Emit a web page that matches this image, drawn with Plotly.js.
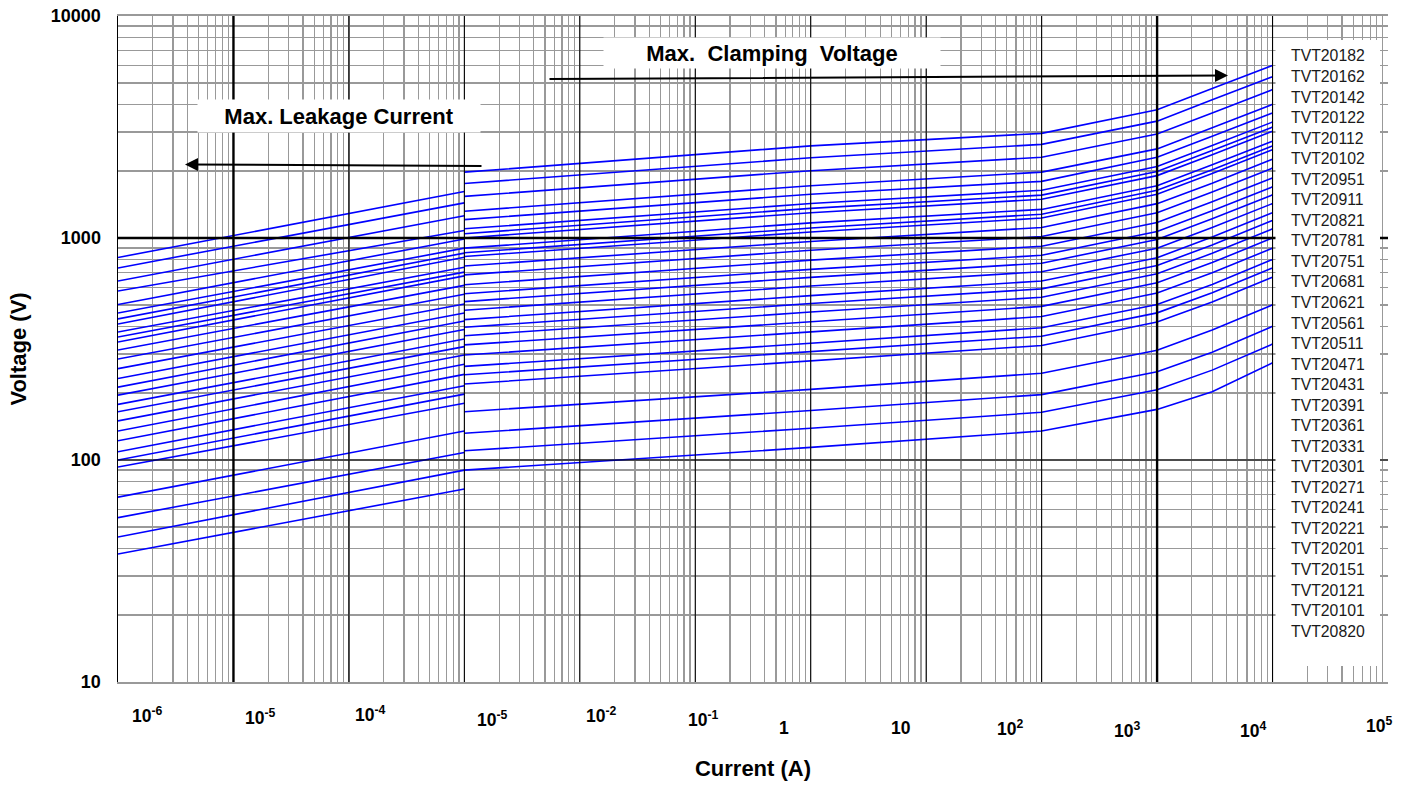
<!DOCTYPE html>
<html><head><meta charset="utf-8">
<script src="https://cdn.plot.ly/plotly-3.0.1.min.js"></script>
<style>html,body{margin:0;padding:0;background:#fff;} #chart{width:1407px;height:785px;}</style>
</head><body><div id="chart"></div>
<script>
// ---------------- data ----------------
const seriesNames = ['TVT20182','TVT20162','TVT20142','TVT20122','TVT20112','TVT20102','TVT20951','TVT20911','TVT20821','TVT20781','TVT20751','TVT20681','TVT20621','TVT20561','TVT20511','TVT20471','TVT20431','TVT20391','TVT20361','TVT20331','TVT20301','TVT20271','TVT20241','TVT20221','TVT20201','TVT20151','TVT20121','TVT20101','TVT20820'];

// currents (A) at which the curves were read
const leakCurrents  = [1e-6, 1e-3];
const clampCurrents = [1e-3, 1, 100, 1000, 3000, 1e4];

// Max. leakage current curves (V)
const leakAt1uA = [817,733,640,577,502,459,432,410,377,358,340,313,285,258,233,213,196,178,165,150,135,122,109,100,93,68,55,45,37.7];
const leakAt1mA = [1620,1440,1260,1080,990,900,855,819,738,702,675,612,558,504,459,423,387,351,324,297,270,243,216,198,180,135,108,90,74];

// Max. clamping voltage curves (V)
const clampAt1mA  = [1980,1760,1540,1320,1210,1100,1045,1000,900,858,825,748,682,616,561,517,473,429,396,363,330,297,264,242,220,165,132,110,90];
const clampAt1A   = [2600,2300,2010,1720,1575,1430,1360,1300,1170,1110,1065,965,880,795,722,665,608,550,507,464,420,378,335,307,279,208,167,139,114];
const clampAt100A = [2960,2640,2310,1980,1800,1640,1560,1495,1345,1280,1230,1115,1015,918,836,770,705,640,590,541,492,443,394,361,328,246,197,164,135];
const clampAt1kA  = [3780,3360,2940,2520,2310,2100,1995,1910,1720,1640,1575,1428,1300,1175,1070,985,900,815,752,690,628,565,502,460,418,312,250,207,169];
const clampAt3kA  = [4720,4190,3660,3140,2870,2610,2480,2370,2135,2030,1950,1765,1610,1455,1325,1220,1115,1010,930,853,775,697,618,567,515,385,306,254,203];
const clampAt10kA = [5990,5330,4660,4000,3660,3330,3160,3030,2730,2600,2500,2265,2065,1865,1700,1565,1430,1300,1200,1100,1000,900,800,733,666,500,400,333,274];

// axis labels (as printed on the original)
const xTickDecades = [-6,-5,-4,-3,-2,-1,0,1,2,3,4,5];
const xTickLabels  = ['10<sup>-6</sup>','10<sup>-5</sup>','10<sup>-4</sup>','10<sup>-5</sup>','10<sup>-2</sup>','10<sup>-1</sup>','1','10','10<sup>2</sup>','10<sup>3</sup>','10<sup>4</sup>','10<sup>5</sup>'];
const yTickValues  = [10,100,1000,10000];
const yTickLabels  = ['10','100','1000','10000'];

// ---------------- layout helpers ----------------
const FONT = 'Liberation Sans, Arial, sans-serif';
const PL = 118, PR = 1388, PT = 16, PB = 682;
const X_RANGE = [-6, 5], Y_RANGE = [1, 4];
const px2paperX = px => (px - PL) / (PR - PL);
const px2paperY = py => (PB - py) / (PB - PT);
const logToPaperX = e => (e - X_RANGE[0]) / (X_RANGE[1] - X_RANGE[0]);
const logToPaperY = e => (e - Y_RANGE[0]) / (Y_RANGE[1] - Y_RANGE[0]);

// label placement (offset in decades from the decade line, baseline in px)
const xLabelShift    = [0.256,0.238,0.183,0.244,0.188,0.072,-0.231,-0.222,-0.271,-0.26,-0.171,-0.082];
const xLabelBaseline = [723,725,722,727,723,727,735,735,736,738,738,733];

// ---------------- traces ----------------
const traces = seriesNames.map((name, i) => ({
  type: 'scatter', mode: 'lines', name: name,
  x: leakCurrents.concat([null], clampCurrents),
  y: [leakAt1uA[i], leakAt1mA[i], null, clampAt1mA[i], clampAt1A[i], clampAt100A[i], clampAt1kA[i], clampAt3kA[i], clampAt10kA[i]],
  line: {color: '#0000ff', width: 1.6},
  connectgaps: false, showlegend: false, hoverinfo: 'skip'
}));

// grid positions
const xMajor = [], xMinor = [];
for (let k = -6; k <= 4; k++) {
  xMajor.push(Math.pow(10, k));
  for (let m = 2; m <= 9; m++) xMinor.push(m * Math.pow(10, k));
}
xMajor.push(1e5);
const yMinor = [];
for (let k = 1; k <= 3; k++) for (let m = 2; m <= 9; m++) yMinor.push(m * Math.pow(10, k));

// shapes: black decade lines + white legend panel
const shapes = [];
for (let k = -5; k <= 4; k++) {
  const thick = (k === -5 || k === 3);
  const xp = logToPaperX(k);
  shapes.push({type:'line', xref:'paper', yref:'paper', x0: xp, x1: xp, y0:0, y1:1,
               line:{color:'#000', width: thick ? 2.4 : 1.1}, layer:'above'});
}
[[2, 1.1], [3, 2.4]].forEach(([e, w]) => {
  const yp = logToPaperY(e);
  shapes.push({type:'line', xref:'paper', yref:'paper', x0:0, x1:1, y0:yp, y1:yp, line:{color:'#000', width:w}, layer:'above'});
});
shapes.push({type:'rect', xref:'paper', yref:'paper', x0: px2paperX(1275.5), x1: px2paperX(1380), y0: px2paperY(666), y1: px2paperY(40),
             fillcolor:'#fff', line:{width:0}, layer:'above'});

// annotations
const annotations = [];
xTickDecades.forEach((d, i) => {
  annotations.push({xref:'x', yref:'paper', x: d + xLabelShift[i], y: px2paperY(xLabelBaseline[i] + 5),
    xanchor:'center', yanchor:'bottom', showarrow:false, text:'<b>' + xTickLabels[i] + '</b>',
    font:{family:FONT, size:17.5, color:'#000'}});
});
seriesNames.forEach((n, i) => {
  annotations.push({xref:'paper', yref:'paper', x: px2paperX(1289), y: px2paperY(56 + i * 20.54),
    xanchor:'left', yanchor:'middle', showarrow:false, text:n, font:{family:FONT, size:15.8, color:'#1a1a1a'}});
});
annotations.push({xref:'paper', yref:'paper', x: px2paperX(772), y: px2paperY(53), xanchor:'center', yanchor:'middle',
  showarrow:false, text:'<b>Max.&nbsp; Clamping&nbsp; Voltage</b>', font:{family:FONT, size:22, color:'#000'},
  bgcolor:'#fff', width:336, height:30, borderpad:0});
annotations.push({xref:'paper', yref:'paper', x: px2paperX(339), y: px2paperY(115.5), xanchor:'center', yanchor:'middle',
  showarrow:false, text:'<b>Max. Leakage Current</b>', font:{family:FONT, size:22, color:'#000'},
  bgcolor:'#fff', width:282, height:32, borderpad:0});
annotations.push({xref:'paper', yref:'paper', x: px2paperX(1228), y: px2paperY(75.5), ax:-680, ay:3.5,
  text:'', showarrow:true, arrowhead:2, arrowsize:1.3, arrowwidth:2, arrowcolor:'#000'});
annotations.push({xref:'paper', yref:'paper', x: px2paperX(185), y: px2paperY(164.5), ax:298, ay:1.5,
  text:'', showarrow:true, arrowhead:2, arrowsize:1.3, arrowwidth:2, arrowcolor:'#000'});

const layout = {
  width:1407, height:785,
  margin:{l:PL, r:1407-PR, t:PT, b:785-PB, pad:0},
  paper_bgcolor:'#fff', plot_bgcolor:'#fff',
  showlegend:false,
  xaxis:{type:'log', range:X_RANGE, tickmode:'array', tickvals:xMajor, showticklabels:false, ticks:'',
         showgrid:true, gridcolor:'#999', gridwidth:1.2, zeroline:false,
         minor:{tickmode:'array', tickvals:xMinor, showgrid:true, gridcolor:'#999', gridwidth:1.2, ticks:''},
         showline:true, linecolor:'#999', linewidth:2, mirror:true,
         title:{text:'<b>Current (A)</b>', font:{family:FONT, size:22, color:'#000'}, standoff:78}, automargin:false},
  yaxis:{type:'log', range:Y_RANGE, tickmode:'array', tickvals:yTickValues, ticktext:yTickLabels.map(t => '<b>' + t + '</b>'), ticks:'',
         tickfont:{family:FONT, size:18, color:'#000'}, ticklabelstandoff:12,
         showgrid:true, gridcolor:'#999', gridwidth:1.4, zeroline:false,
         minor:{tickmode:'array', tickvals:yMinor, showgrid:true, gridcolor:'#999', gridwidth:1.4, ticks:''},
         showline:true, linecolor:'#000', linewidth:1.5,
         title:{text:'<b>Voltage (V)</b>', font:{family:FONT, size:22, color:'#000'}, standoff:18}, automargin:false},
  shapes: shapes,
  annotations: annotations
};

Plotly.newPlot('chart', traces, layout, {staticPlot:true, displayModeBar:false});
</script>
</body></html>
